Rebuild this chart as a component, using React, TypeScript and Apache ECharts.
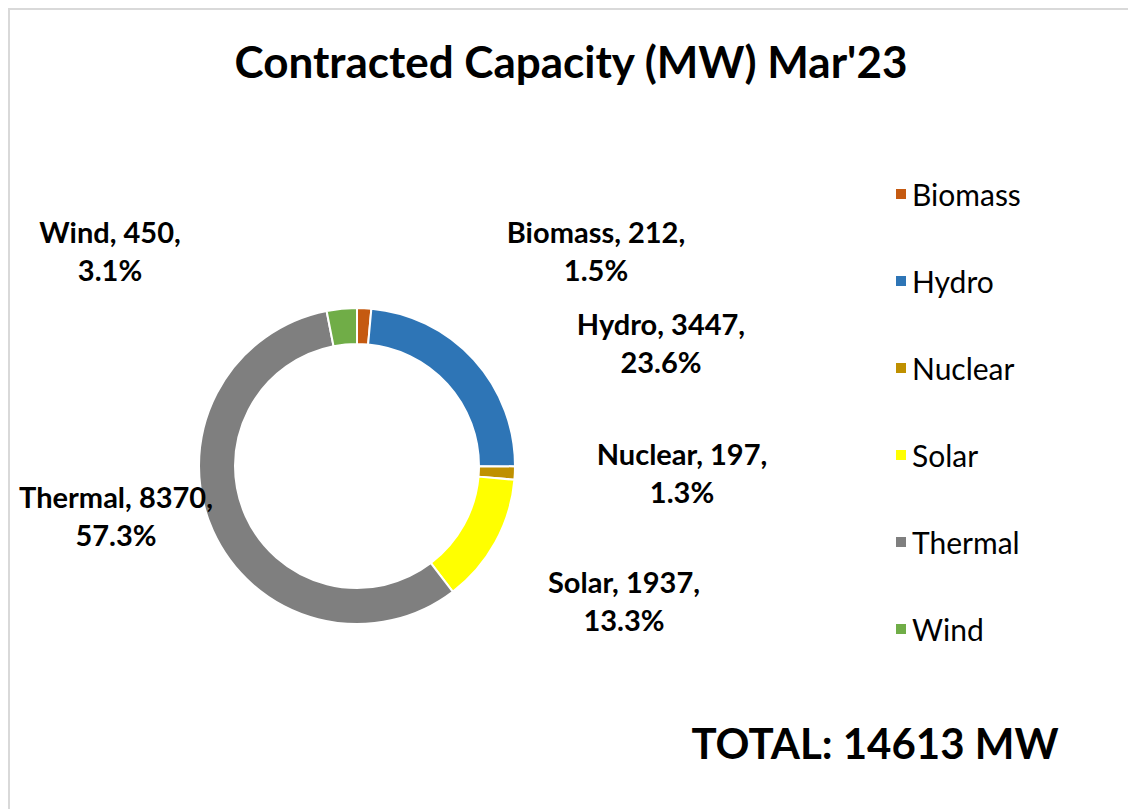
import React, { useEffect, useRef } from "react";
import * as echarts from "echarts";

const categories = ["Biomass", "Hydro", "Nuclear", "Solar", "Thermal", "Wind"];
const values = [212, 3447, 197, 1937, 8370, 450];
const colors = ["#C55A11", "#2E75B6", "#BF9000", "#FFFF00", "#7F7F7F", "#70AD47"];
const titleText = "Contracted Capacity (MW) Mar'23";
const totalText = "TOTAL: 14613 MW";
// label anchor positions (label centres) in px
const labelPos: [number, number][] = [
  [596, 250],
  [661, 342],
  [682, 472],
  [624, 600],
  [116, 515],
  [110, 250],
];

const FONT = "Lato, 'Noto Sans', sans-serif";

export default function App() {
  const ref = useRef<HTMLDivElement>(null);
  useEffect(() => {
    if (!ref.current) return;
    const chart = echarts.init(ref.current, undefined, { renderer: "svg" });
    const total = values.reduce((a, b) => a + b, 0);
    chart.setOption({
      animation: false,
      backgroundColor: "#ffffff",
      textStyle: { fontFamily: FONT },
      graphic: [
        {
          type: "rect",
          shape: { x: 9, y: 9, width: 1300, height: 1000 },
          style: { fill: "none", stroke: "#d9d9d9", lineWidth: 2 },
          silent: true,
        },
        {
          type: "text",
          x: 571,
          y: 61,
          style: {
            text: titleText,
            fontFamily: FONT,
            fontWeight: "bold",
            fontSize: 44,
            fill: "#000",
            textAlign: "center",
            textVerticalAlign: "middle",
          },
        },
        {
          type: "text",
          x: 875,
          y: 743,
          style: {
            text: totalText,
            fontFamily: FONT,
            fontWeight: "bold",
            fontSize: 42,
            fill: "#000",
            textAlign: "center",
            textVerticalAlign: "middle",
          },
        },
      ],
      legend: {
        orient: "vertical",
        left: 889,
        top: 174,
        itemWidth: 12,
        itemHeight: 12,
        itemGap: 57,
        icon: "rect",
        textStyle: { fontFamily: FONT, fontSize: 30, color: "#000", lineHeight: 30 },
        data: categories,
      },
      series: [
        {
          type: "pie",
          center: [357, 466],
          radius: [122, 158],
          startAngle: 90,
          clockwise: true,
          avoidLabelOverlap: false,
          itemStyle: { borderColor: "#ffffff", borderWidth: 2 },
          label: {
            show: true,
            position: "outside",
            fontFamily: FONT,
            fontWeight: "bold",
            fontSize: 29,
            lineHeight: 38,
            color: "#000",
            formatter: (p: any) =>
              `${p.name}, ${p.value},\n${((p.value / total) * 100).toFixed(1)}%`,
          },
          labelLine: { show: false },
          labelLayout: (params: any) => {
            const pos = labelPos[params.dataIndex];
            return { x: pos[0], y: pos[1], align: "center", verticalAlign: "middle" };
          },
          emphasis: { disabled: true },
          data: categories.map((c, i) => ({
            name: c,
            value: values[i],
            itemStyle: { color: colors[i] },
          })),
        },
      ],
    });
    return () => chart.dispose();
  }, []);
  return (
    <div
      ref={ref}
      style={{ position: "fixed", left: 0, top: 0, width: 1128, height: 809 }}
    />
  );
}
